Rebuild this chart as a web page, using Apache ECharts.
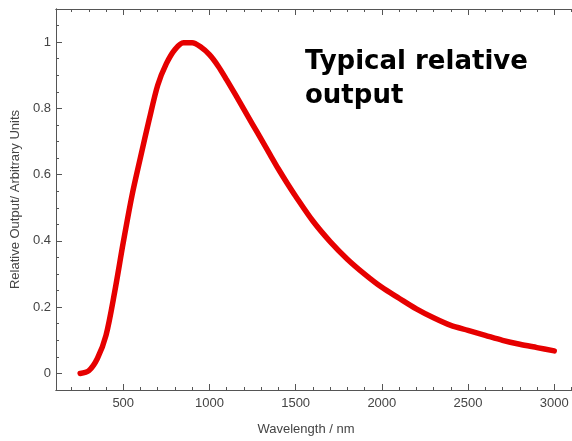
<!DOCTYPE html>
<html>
<head>
<meta charset="utf-8">
<script src="https://cdn.jsdelivr.net/npm/echarts@6/dist/echarts.min.js"></script>
<style>html,body{margin:0;padding:0;background:#fff}#c{width:572px;height:441px}</style>
</head>
<body>
<div id="c"></div>
<script>
const wavelengths = [250,300,350,400,450,500,550,600,650,700,750,800,850,900,950,1000,1050,1100,1150,1200,1250,1300,1350,1400,1450,1500,1600,1700,1800,1900,2000,2100,2200,2300,2400,2500,2600,2700,2800,2900,3000];
const outputs = [0,0.008,0.045,0.115,0.245,0.395,0.535,0.652,0.765,0.87,0.935,0.978,0.998,0.998,0.985,0.962,0.928,0.886,0.842,0.797,0.752,0.707,0.662,0.617,0.575,0.535,0.46,0.398,0.345,0.30,0.26,0.227,0.195,0.168,0.145,0.13,0.115,0.1,0.088,0.078,0.068];
const xTickLabels = [500,1000,1500,2000,2500,3000];
const xMinorTicks = [200,300,400,600,700,800,900,1100,1200,1300,1400,1600,1700,1800,1900,2100,2200,2300,2400,2600,2700,2800,2900,3100];
const yTickLabels = [0,0.2,0.4,0.6,0.8,1];
const yMinorTicks = [-0.05,0.05,0.1,0.15,0.25,0.3,0.35,0.45,0.5,0.55,0.65,0.7,0.75,0.85,0.9,0.95,1.05];
const xTitle = 'Wavelength / nm';
const yTitle = 'Relative Output/ Arbitrary Units';
const noteText = 'Typical relative\noutput';

const X_MIN = 110, X_MAX = 3103, Y_MIN = -0.05, Y_MAX = 1.1;
const axisCol = '#555';
const font = '"Liberation Sans", Arial, sans-serif';

function xAx(pos, major, labels, extra) {
  return Object.assign({
    type: 'value', position: pos, min: X_MIN, max: X_MAX,
    axisLine: {show: true, onZero: false, lineStyle: {color: axisCol, width: 1}},
    axisTick: {show: true, inside: true, length: major ? 6 : 3, customValues: major ? xTickLabels : xMinorTicks, lineStyle: {color: axisCol}},
    axisLabel: labels ? {show: true, customValues: xTickLabels, color: '#444', fontSize: 13, fontFamily: font, margin: 7,
      formatter: v => String(v)} : {show: false},
    splitLine: {show: false}
  }, extra || {});
}
function yAx(major, labels, extra) {
  return Object.assign({
    type: 'value', position: 'left', min: Y_MIN, max: Y_MAX,
    axisLine: {show: true, onZero: false, lineStyle: {color: axisCol, width: 1}},
    axisTick: {show: true, inside: true, length: major ? 6 : 3, customValues: major ? yTickLabels : yMinorTicks, lineStyle: {color: axisCol}},
    axisLabel: labels ? {show: true, customValues: yTickLabels, color: '#444', fontSize: 13, fontFamily: font, margin: 5,
      formatter: v => String(Math.round(v * 10) / 10)} : {show: false},
    splitLine: {show: false}
  }, extra || {});
}

const chart = echarts.init(document.getElementById('c'), null, {renderer: 'canvas'});
chart.setOption({
  animation: false,
  backgroundColor: '#fff',
  grid: {left: 56, right: 0, top: 9, bottom: 43, containLabel: false},
  xAxis: [
    xAx('bottom', true, true, {name: xTitle, nameLocation: 'middle', nameGap: 33,
      nameTextStyle: {color: '#444', fontSize: 13, fontFamily: font, padding: [0, 16, 0, 0]}}),
    xAx('bottom', false, false),
    xAx('top', true, false),
    xAx('top', false, false)
  ],
  yAxis: [
    yAx(true, true, {name: yTitle, nameLocation: 'middle', nameGap: 33,
      nameTextStyle: {color: '#444', fontSize: 13, fontFamily: font}}),
    yAx(false, false)
  ],
  series: [{
    type: 'line',
    xAxisIndex: 0, yAxisIndex: 0,
    data: wavelengths.map((w, i) => [w, outputs[i]]),
    smooth: 0.3,
    showSymbol: false,
    lineStyle: {color: '#e60000', width: 5.5, cap: 'round', join: 'round'},
    itemStyle: {color: '#e60000'}
  }],
  graphic: [{
    type: 'text', left: 305, top: 45,
    style: {text: noteText, font: 'bold 26px "DejaVu Sans", Verdana, sans-serif', fill: '#000', lineHeight: 34}
  }]
});
</script>
</body>
</html>
